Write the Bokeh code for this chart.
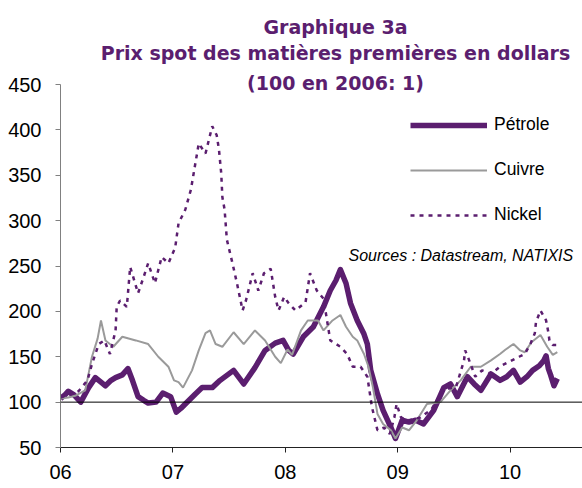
from bokeh.plotting import figure
from bokeh.models import Range1d, FixedTicker, Span, Label, Legend, LegendItem
from bokeh.embed import file_html
from bokeh.resources import INLINE

# ---- data (decimal years, index 100 at start of 2006) ----
petrole_x = [2006.00, 2006.04, 2006.07, 2006.12, 2006.18, 2006.25, 2006.31, 2006.36, 2006.40, 2006.45,
             2006.49, 2006.55, 2006.60, 2006.64, 2006.69, 2006.74, 2006.78, 2006.85, 2006.91, 2006.98,
             2007.03, 2007.07, 2007.11, 2007.20, 2007.26, 2007.35, 2007.42, 2007.54, 2007.63, 2007.73,
             2007.82, 2007.91, 2007.98, 2008.03, 2008.07, 2008.16, 2008.25, 2008.34, 2008.40, 2008.45,
             2008.49, 2008.54, 2008.58, 2008.64, 2008.70, 2008.73, 2008.76, 2008.82, 2008.87, 2008.94,
             2008.98, 2009.04, 2009.10, 2009.16, 2009.23, 2009.32, 2009.41, 2009.47, 2009.53, 2009.62,
             2009.68, 2009.74, 2009.83, 2009.91, 2009.97, 2010.03, 2010.09, 2010.15, 2010.20, 2010.26,
             2010.30, 2010.32, 2010.34, 2010.36, 2010.39, 2010.42]
petrole_y = [104, 108, 112, 108, 100, 116, 127, 122, 118, 124,
             127, 130, 137, 124, 106, 102, 99, 100, 110, 106,
             89, 93, 98, 109, 116, 116, 124, 135, 120, 138,
             157, 165, 168, 157, 153, 172, 183, 205, 223, 234,
             246, 231, 209, 190, 175, 164, 135, 109, 91, 72,
             60, 80, 78, 80, 76, 91, 116, 120, 106, 128,
             120, 113, 131, 124, 128, 135, 122, 128, 135, 140,
             146, 151, 137, 130, 118, 126]

cuivre_x = [2006.00, 2006.07, 2006.13, 2006.22, 2006.28, 2006.33, 2006.36, 2006.40, 2006.47, 2006.55,
            2006.67, 2006.78, 2006.87, 2006.96, 2007.01, 2007.05, 2007.09, 2007.17, 2007.23, 2007.29,
            2007.33, 2007.38, 2007.44, 2007.54, 2007.63, 2007.73, 2007.82, 2007.91, 2007.96, 2008.02,
            2008.06, 2008.14, 2008.20, 2008.29, 2008.34, 2008.42, 2008.49, 2008.54, 2008.60, 2008.64,
            2008.70, 2008.74, 2008.78, 2008.82, 2008.87, 2008.94, 2008.98, 2009.04, 2009.10, 2009.17,
            2009.26, 2009.38, 2009.47, 2009.56, 2009.65, 2009.74, 2009.83, 2009.91, 2009.96, 2010.03,
            2010.09, 2010.13, 2010.19, 2010.27, 2010.33, 2010.38, 2010.42]
cuivre_y = [104, 105, 107, 113, 150, 170, 190, 168, 161, 172,
            168, 164, 150, 139, 124, 122, 116, 135, 157, 176,
            179, 164, 161, 177, 164, 179, 168, 150, 143, 158,
            152, 179, 190, 190, 179, 190, 196, 183, 172, 168,
            153, 139, 116, 87, 76, 69, 60, 72, 69, 80,
            98, 100, 113, 124, 139, 139, 146, 153, 158, 164,
            157, 155, 166, 174, 161, 152, 155]

nickel_x = [2006.00, 2006.08, 2006.16, 2006.24, 2006.28, 2006.34, 2006.39, 2006.44, 2006.49, 2006.50,
            2006.53, 2006.59, 2006.62, 2006.69, 2006.74, 2006.78, 2006.84, 2006.90, 2006.96, 2007.02,
            2007.05, 2007.11, 2007.16, 2007.19, 2007.23, 2007.29, 2007.35, 2007.39, 2007.41, 2007.43,
            2007.44, 2007.46, 2007.48, 2007.53, 2007.57, 2007.62, 2007.65, 2007.71, 2007.76, 2007.81,
            2007.87, 2007.91, 2007.94, 2007.99, 2008.03, 2008.09, 2008.18, 2008.22, 2008.28, 2008.34,
            2008.40, 2008.49, 2008.55, 2008.60, 2008.67, 2008.73, 2008.77, 2008.82, 2008.88, 2008.93,
            2008.97, 2008.99, 2009.03, 2009.10, 2009.20, 2009.30, 2009.40, 2009.52, 2009.59, 2009.60,
            2009.63, 2009.69, 2009.75, 2009.83, 2009.92, 2010.00, 2010.08, 2010.13, 2010.18, 2010.22,
            2010.23, 2010.27, 2010.32, 2010.34, 2010.35, 2010.38, 2010.42]
nickel_y = [105, 108, 112, 124, 142, 164, 168, 153, 179, 205,
            212, 205, 249, 220, 238, 253, 231, 260, 253, 270,
            297, 312, 334, 356, 385, 374, 404, 394, 378, 352,
            326, 312, 279, 253, 231, 201, 212, 242, 223, 242,
            247, 216, 201, 216, 209, 201, 210, 242, 223, 214,
            168, 161, 153, 139, 139, 128, 95, 69, 72, 65,
            83, 98, 83, 80, 83, 92, 113, 117, 146, 157,
            148, 128, 135, 131, 140, 145, 150, 153, 164, 176,
            188, 201, 190, 177, 168, 163, 163]

year_ticks = [2006, 2007, 2008, 2009, 2010]
year_labels = ["06", "07", "08", "09", "10"]
value_ticks = [50, 100, 150, 200, 250, 300, 350, 400, 450]
series_names = ["Pétrole", "Cuivre", "Nickel"]

title_lines = ["Graphique 3a",
               "Prix spot des matières premières en dollars",
               "(100 en 2006: 1)"]
source_text = "Sources : Datastream, NATIXIS"

PURPLE = "#5b1e6f"
GREY = "#9a9a9a"

# frame covers the whole canvas above the x axis; the y axis line is bounded to 50..450
Y_TOP = 450 + 84 * 400 / 363.0

p = figure(width=582, height=488,
           x_range=Range1d(2006, 2010.644), y_range=Range1d(50, Y_TOP),
           output_backend="svg", toolbar_location=None,
           min_border_left=60, min_border_right=0, min_border_top=0, min_border_bottom=41)
p.outline_line_color = None
p.xgrid.grid_line_color = None
p.ygrid.grid_line_color = None
p.background_fill_color = "white"
p.border_fill_color = "white"

# axes
p.xaxis.ticker = FixedTicker(ticks=year_ticks)
p.xaxis.major_label_overrides = {t: l for t, l in zip(year_ticks, year_labels)}
p.yaxis.ticker = FixedTicker(ticks=value_ticks)
p.yaxis.bounds = (50, 450)
for ax in (p.xaxis[0], p.yaxis[0]):
    ax.minor_tick_line_color = None
    ax.major_tick_in = 0
    ax.major_tick_out = 5
    ax.major_label_text_font = "Liberation Sans"
    ax.major_label_text_font_size = "20px"
    ax.major_label_text_color = "black"
p.xaxis.axis_line_color = "#222222"
p.xaxis.major_tick_line_color = "#222222"
p.xaxis.major_label_standoff = 12
p.yaxis.axis_line_color = "#808080"
p.yaxis.major_tick_line_color = "#808080"
p.yaxis.major_label_standoff = 14

# series
r_p = p.line(petrole_x, petrole_y, line_color=PURPLE, line_width=5.5, line_join="round")
r_c = p.line(cuivre_x, cuivre_y, line_color=GREY, line_width=2)
r_n = p.line(nickel_x, nickel_y, line_color=PURPLE, line_width=2.5, line_dash="4 5")

# reference line at 100
p.add_layout(Span(location=100, dimension="width", line_color="black", line_width=1))

legend = Legend(items=[LegendItem(label=series_names[0], renderers=[r_p]),
                       LegendItem(label=series_names[1], renderers=[r_c]),
                       LegendItem(label=series_names[2], renderers=[r_n])],
                location=(350, 222), orientation="vertical",
                glyph_width=77, glyph_height=20, label_height=20, spacing=24,
                label_standoff=7, padding=0, margin=0,
                border_line_color=None, background_fill_alpha=0,
                label_text_font="Liberation Sans", label_text_font_size="17.5px",
                label_text_color="black")
p.add_layout(legend)

p.add_layout(Label(x=288, y=192.5, x_units="screen", y_units="screen", text=source_text,
                   text_font="Liberation Sans", text_font_style="italic", text_font_size="16px",
                   text_color="black", text_baseline="alphabetic"))

title_y = [420.3, 394.3, 365]
for t, yy in zip(title_lines, title_y):
    p.add_layout(Label(x=275, y=yy, x_units="screen", y_units="screen", text=t,
                       text_font="DejaVu Sans", text_font_style="bold", text_font_size="19px",
                       text_color=PURPLE, text_align="center", text_baseline="alphabetic"))

open("out.html", "w").write(file_html(p, INLINE))
